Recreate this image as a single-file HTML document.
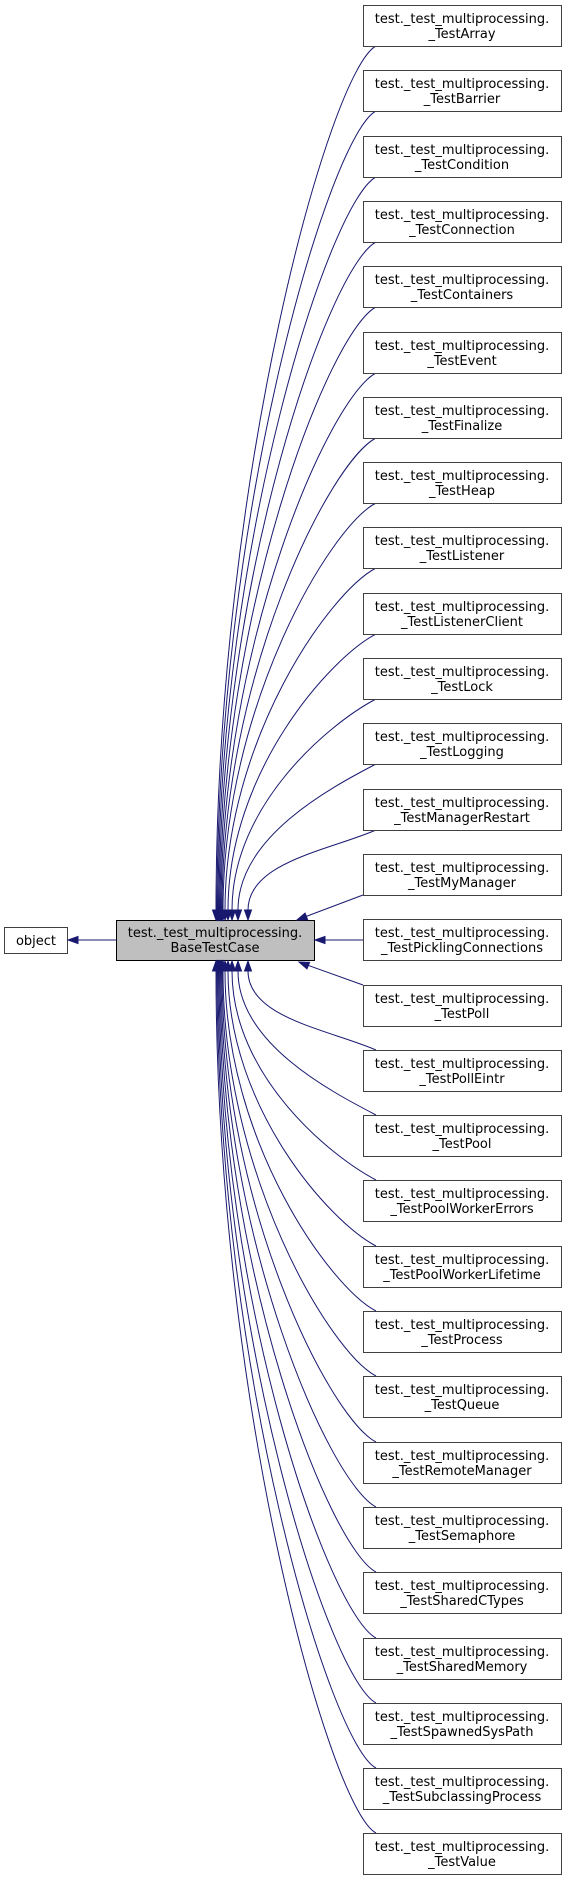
<!DOCTYPE html>
<html><head><meta charset="utf-8"><style>
html,body{margin:0;padding:0;background:#fff;}
svg{display:block;}
text{font-family:"DejaVu Sans","Liberation Sans",sans-serif;font-size:13px;fill:#000;text-anchor:middle;}
.b{fill:#fff;stroke:#404040;stroke-width:1;}
.e{fill:none;stroke:#191970;stroke-width:1;}
.a{fill:#191970;stroke:#191970;stroke-width:1;}
</style></head><body>
<svg width="567" height="1881" viewBox="0 0 567 1881" xmlns="http://www.w3.org/2000/svg">
<!-- object -->
<rect class="b" x="4.5" y="927.5" width="63" height="26"/>
<text x="36" y="945">object</text>
<line class="e" x1="116" y1="940" x2="78" y2="940"/>
<polygon class="a" points="68,940 78,936.5 78,943.5"/>
<!-- base -->
<rect x="116.5" y="920.5" width="198" height="40" fill="#bfbfbf" stroke="#000"/>
<text x="215" y="937">test._test_multiprocessing.</text>
<text x="215" y="952">BaseTestCase</text>

<!-- upper edges -->
<path class="e" d="M376,46 C330,70 216,478 216,910"/><polygon class="a" points="212.5,910 219.5,910 216,920"/>
<path class="e" d="M376,111 C330,135 217,510.5 217,910"/><polygon class="a" points="213.5,910 220.5,910 217,920"/>
<path class="e" d="M376,177 C330,201 218,543.5 218,910"/><polygon class="a" points="214.5,910 221.5,910 218,920"/>
<path class="e" d="M376,242 C330,266 219,576 219,910"/><polygon class="a" points="215.5,910 222.5,910 219,920"/>
<path class="e" d="M376,307 C330,331 220,608.5 220,910"/><polygon class="a" points="216.5,910 223.5,910 220,920"/>
<path class="e" d="M376,373 C330,397 221,641.5 221,910"/><polygon class="a" points="217.5,910 224.5,910 221,920"/>
<path class="e" d="M376,438 C330,462 222,674 222,910"/><polygon class="a" points="218.5,910 225.5,910 222,920"/>
<path class="e" d="M376,503 C330,527 223,706.5 223,910"/><polygon class="a" points="219.5,910 226.5,910 223,920"/>
<path class="e" d="M376,568 C330,592 225,739 225,910"/><polygon class="a" points="221.5,910 228.5,910 225,920"/>
<path class="e" d="M376,634 C330,658 228,772 228,910"/><polygon class="a" points="224.5,910 231.5,910 228,920"/>
<path class="e" d="M376,699 C330,723 232,804.5 232,910"/><polygon class="a" points="228.5,910 235.5,910 232,920"/>
<path class="e" d="M376,764 C330,788 238,837 238,910"/><polygon class="a" points="234.5,910 241.5,910 238,920"/>
<path class="e" d="M376,830 C330,850 248,862 248,910"/><polygon class="a" points="244.5,910 251.5,910 248,920"/>
<line class="e" x1="363" y1="895" x2="306" y2="916.5"/><polygon class="a" points="297,920 307.6,919.7 305.1,913.1"/>
<!-- middle -->
<line class="e" x1="363" y1="940" x2="325" y2="940"/><polygon class="a" points="315,940 325,936.5 325,943.5"/>
<!-- lower edges -->
<line class="e" x1="363" y1="985" x2="308" y2="965.3"/><polygon class="a" points="299,962 309.6,962.3 307,968.9"/>
<path class="e" d="M376,1050 C330,1030 248,1018 248,971"/><polygon class="a" points="244.5,971 251.5,971 248,961"/>
<path class="e" d="M376,1115 C330,1091 238,1043 238,971"/><polygon class="a" points="234.5,971 241.5,971 238,961"/>
<path class="e" d="M376,1180 C330,1156 232,1075.5 232,971"/><polygon class="a" points="228.5,971 235.5,971 232,961"/>
<path class="e" d="M376,1246 C330,1222 228,1108.5 228,971"/><polygon class="a" points="224.5,971 231.5,971 228,961"/>
<path class="e" d="M376,1311 C330,1287 225,1141 225,971"/><polygon class="a" points="221.5,971 228.5,971 225,961"/>
<path class="e" d="M376,1376 C330,1352 223,1173.5 223,971"/><polygon class="a" points="219.5,971 226.5,971 223,961"/>
<path class="e" d="M376,1442 C330,1418 222,1206.5 222,971"/><polygon class="a" points="218.5,971 225.5,971 222,961"/>
<path class="e" d="M376,1507 C330,1483 221,1239 221,971"/><polygon class="a" points="217.5,971 224.5,971 221,961"/>
<path class="e" d="M376,1572 C330,1548 220,1271.5 220,971"/><polygon class="a" points="216.5,971 223.5,971 220,961"/>
<path class="e" d="M376,1638 C330,1614 219,1304.5 219,971"/><polygon class="a" points="215.5,971 222.5,971 219,961"/>
<path class="e" d="M376,1703 C330,1679 218,1337 218,971"/><polygon class="a" points="214.5,971 221.5,971 218,961"/>
<path class="e" d="M376,1768 C330,1744 217,1369.5 217,971"/><polygon class="a" points="213.5,971 220.5,971 217,961"/>
<path class="e" d="M376,1833 C330,1809 216,1402 216,971"/><polygon class="a" points="212.5,971 219.5,971 216,961"/>

<!-- child boxes -->
<g>
<rect class="b" x="363.5" y="5.5" width="198" height="41"/><text x="462" y="23">test._test_multiprocessing.</text><text x="462" y="38">_TestArray</text>
<rect class="b" x="363.5" y="70.5" width="198" height="41"/><text x="462" y="88">test._test_multiprocessing.</text><text x="462" y="103">_TestBarrier</text>
<rect class="b" x="363.5" y="136.5" width="198" height="41"/><text x="462" y="154">test._test_multiprocessing.</text><text x="462" y="169">_TestCondition</text>
<rect class="b" x="363.5" y="201.5" width="198" height="41"/><text x="462" y="219">test._test_multiprocessing.</text><text x="462" y="234">_TestConnection</text>
<rect class="b" x="363.5" y="266.5" width="198" height="41"/><text x="462" y="284">test._test_multiprocessing.</text><text x="462" y="299">_TestContainers</text>
<rect class="b" x="363.5" y="332.5" width="198" height="41"/><text x="462" y="350">test._test_multiprocessing.</text><text x="462" y="365">_TestEvent</text>
<rect class="b" x="363.5" y="397.5" width="198" height="41"/><text x="462" y="415">test._test_multiprocessing.</text><text x="462" y="430">_TestFinalize</text>
<rect class="b" x="363.5" y="462.5" width="198" height="41"/><text x="462" y="480">test._test_multiprocessing.</text><text x="462" y="495">_TestHeap</text>
<rect class="b" x="363.5" y="527.5" width="198" height="41"/><text x="462" y="545">test._test_multiprocessing.</text><text x="462" y="560">_TestListener</text>
<rect class="b" x="363.5" y="593.5" width="198" height="41"/><text x="462" y="611">test._test_multiprocessing.</text><text x="462" y="626">_TestListenerClient</text>
<rect class="b" x="363.5" y="658.5" width="198" height="41"/><text x="462" y="676">test._test_multiprocessing.</text><text x="462" y="691">_TestLock</text>
<rect class="b" x="363.5" y="723.5" width="198" height="41"/><text x="462" y="741">test._test_multiprocessing.</text><text x="462" y="756">_TestLogging</text>
<rect class="b" x="363.5" y="789.5" width="198" height="41"/><text x="462" y="807">test._test_multiprocessing.</text><text x="462" y="822">_TestManagerRestart</text>
<rect class="b" x="363.5" y="854.5" width="198" height="41"/><text x="462" y="872">test._test_multiprocessing.</text><text x="462" y="887">_TestMyManager</text>
<rect class="b" x="363.5" y="919.5" width="198" height="41"/><text x="462" y="937">test._test_multiprocessing.</text><text x="462" y="952">_TestPicklingConnections</text>
<rect class="b" x="363.5" y="985.5" width="198" height="41"/><text x="462" y="1003">test._test_multiprocessing.</text><text x="462" y="1018">_TestPoll</text>
<rect class="b" x="363.5" y="1050.5" width="198" height="41"/><text x="462" y="1068">test._test_multiprocessing.</text><text x="462" y="1083">_TestPollEintr</text>
<rect class="b" x="363.5" y="1115.5" width="198" height="41"/><text x="462" y="1133">test._test_multiprocessing.</text><text x="462" y="1148">_TestPool</text>
<rect class="b" x="363.5" y="1180.5" width="198" height="41"/><text x="462" y="1198">test._test_multiprocessing.</text><text x="462" y="1213">_TestPoolWorkerErrors</text>
<rect class="b" x="363.5" y="1246.5" width="198" height="41"/><text x="462" y="1264">test._test_multiprocessing.</text><text x="462" y="1279">_TestPoolWorkerLifetime</text>
<rect class="b" x="363.5" y="1311.5" width="198" height="41"/><text x="462" y="1329">test._test_multiprocessing.</text><text x="462" y="1344">_TestProcess</text>
<rect class="b" x="363.5" y="1376.5" width="198" height="41"/><text x="462" y="1394">test._test_multiprocessing.</text><text x="462" y="1409">_TestQueue</text>
<rect class="b" x="363.5" y="1442.5" width="198" height="41"/><text x="462" y="1460">test._test_multiprocessing.</text><text x="462" y="1475">_TestRemoteManager</text>
<rect class="b" x="363.5" y="1507.5" width="198" height="41"/><text x="462" y="1525">test._test_multiprocessing.</text><text x="462" y="1540">_TestSemaphore</text>
<rect class="b" x="363.5" y="1572.5" width="198" height="41"/><text x="462" y="1590">test._test_multiprocessing.</text><text x="462" y="1605">_TestSharedCTypes</text>
<rect class="b" x="363.5" y="1638.5" width="198" height="41"/><text x="462" y="1656">test._test_multiprocessing.</text><text x="462" y="1671">_TestSharedMemory</text>
<rect class="b" x="363.5" y="1703.5" width="198" height="41"/><text x="462" y="1721">test._test_multiprocessing.</text><text x="462" y="1736">_TestSpawnedSysPath</text>
<rect class="b" x="363.5" y="1768.5" width="198" height="41"/><text x="462" y="1786">test._test_multiprocessing.</text><text x="462" y="1801">_TestSubclassingProcess</text>
<rect class="b" x="363.5" y="1833.5" width="198" height="41"/><text x="462" y="1851">test._test_multiprocessing.</text><text x="462" y="1866">_TestValue</text>
</g>
</svg>
</body></html>
